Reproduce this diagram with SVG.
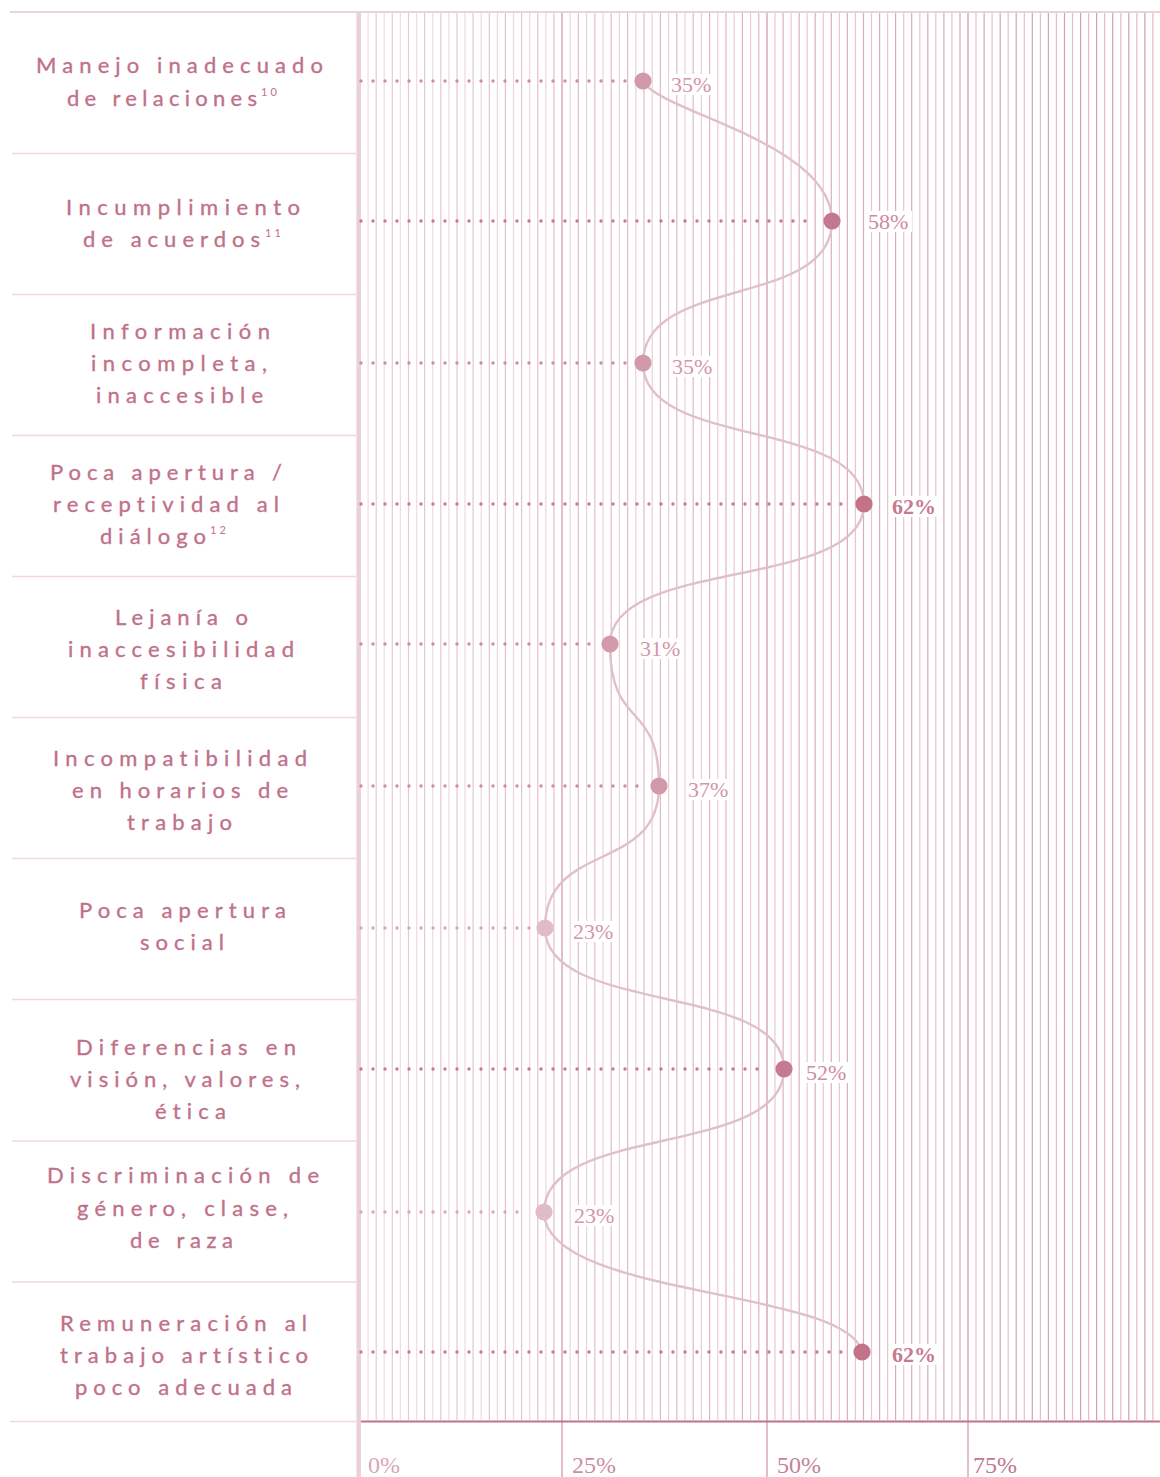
<svg xmlns="http://www.w3.org/2000/svg" width="1160" height="1477" viewBox="0 0 1160 1477">
<defs>
<linearGradient id="gA" gradientUnits="userSpaceOnUse" x1="360" y1="0" x2="1160" y2="0">
<stop offset="0" stop-color="#f1dee4"/><stop offset="1" stop-color="#e0b8c6"/>
</linearGradient>
<linearGradient id="gB" gradientUnits="userSpaceOnUse" x1="360" y1="0" x2="1160" y2="0">
<stop offset="0" stop-color="#e9ccd5"/><stop offset="1" stop-color="#d49aae"/>
</linearGradient>
<style>
.lbl{font-family:Lato,"Noto Sans","Liberation Sans",sans-serif;font-size:22px;fill:#bf7189;stroke:#bf7189;stroke-width:0.35px;font-variant-ligatures:none;font-feature-settings:"liga" 0,"clig" 0}
.sup{font-family:Lato,"Noto Sans","Liberation Sans",sans-serif;font-size:11px;fill:#bf7189;letter-spacing:3px}
.val{font-family:"Liberation Serif",serif;font-size:22px}
.bold{font-weight:bold}
.sep{stroke:#efd8de;stroke-width:1.5;fill:none}
.dots{stroke-width:3.4;stroke-linecap:round;stroke-dasharray:0 12;fill:none}
.bg{fill:#ffffff}
.ax{font-family:"Liberation Serif",serif;font-size:24px}
</style>
</defs>
<rect width="1160" height="1477" fill="#ffffff"/>

<g id="grid">
<path fill="none" stroke="url(#gA)" stroke-width="1.2" d="M368.1 13V1420M384.2 13V1420M400.4 13V1420M416.6 13V1420M432.7 13V1420M448.9 13V1420M465 13V1420M481.2 13V1420M497.4 13V1420M513.5 13V1420M529.7 13V1420M545.8 13V1420M570.2 13V1420M586.6 13V1420M603 13V1420M619.4 13V1420M635.8 13V1420M652.2 13V1420M668.6 13V1420M685 13V1420M701.4 13V1420M717.8 13V1420M734.2 13V1420M750.6 13V1420M775 13V1420M791.1 13V1420M807.2 13V1420M823.3 13V1420M839.4 13V1420M855.4 13V1420M871.5 13V1420M887.6 13V1420M903.7 13V1420M919.8 13V1420M935.8 13V1420M951.9 13V1420M976 13V1420M992.1 13V1420M1008.2 13V1420M1024.3 13V1420M1040.4 13V1420M1056.4 13V1420M1072.5 13V1420M1088.6 13V1420M1104.7 13V1420M1120.8 13V1420M1136.8 13V1420M1152.9 13V1420"/>
<path fill="none" stroke="url(#gB)" stroke-width="1.2" d="M376.2 13V1420M392.3 13V1420M408.5 13V1420M424.6 13V1420M440.8 13V1420M457 13V1420M473.1 13V1420M489.3 13V1420M505.4 13V1420M521.6 13V1420M537.8 13V1420M553.9 13V1420M578.4 13V1420M594.8 13V1420M611.2 13V1420M627.6 13V1420M644 13V1420M660.4 13V1420M676.8 13V1420M693.2 13V1420M709.6 13V1420M726 13V1420M742.4 13V1420M758.8 13V1420M783.1 13V1420M799.2 13V1420M815.2 13V1420M831.3 13V1420M847.4 13V1420M863.5 13V1420M879.6 13V1420M895.6 13V1420M911.7 13V1420M927.8 13V1420M943.9 13V1420M960 13V1420M984.1 13V1420M1000.2 13V1420M1016.2 13V1420M1032.3 13V1420M1048.4 13V1420M1064.5 13V1420M1080.6 13V1420M1096.6 13V1420M1112.7 13V1420M1128.8 13V1420M1144.9 13V1420"/>
<path fill="none" stroke="#dcadbb" stroke-width="1.6" d="M562 13V1477M767 13V1477M968 13V1477"/>
<line x1="10" y1="12" x2="1160" y2="12" stroke="#ecd3da" stroke-width="2"/>
<path class="sep" d="M12 153.5H356M12 294.5H356M12 435.5H356M12 576.5H356M12 717.5H356M12 858.5H356M12 999.5H356M12 1141H356M12 1282H356M10 1421.5H357"/>
<line x1="358.7" y1="12" x2="358.7" y2="1477" stroke="#ead0d8" stroke-width="4.5"/>
<line x1="361" y1="1421.5" x2="1160" y2="1421.5" stroke="#c2718a" stroke-width="2"/>
<text class="ax" x="368" y="1473" fill="#dba6b5">0%</text>
<text class="ax" x="572" y="1473" fill="#cf8fa3">25%</text>
<text class="ax" x="777" y="1473" fill="#c8819a">50%</text>
<text class="ax" x="973" y="1473" fill="#c27890">75%</text>
</g>

<g id="connectors">
<path fill="none" stroke="#e0c0c9" stroke-width="2.4" d="M643,81 C658,112 832,142 832,221 C832,309 643,275 643,363 C643,450 864,417 864,504 C864,591 610,557 610,644 C610,732 659,698 659,786 C659,874 545,840 545,928 C545,1015 784,982 784,1069 C784,1158 544,1123 544,1212 C544,1298 848,1288 862,1352"/>
</g>

<g id="row-1">
<text class="lbl" x="36" y="73" textLength="287" lengthAdjust="spacing">Manejo inadecuado</text>
<text class="lbl" x="67" y="106" textLength="190" lengthAdjust="spacing">de relaciones</text>
<text class="sup" x="261" y="96">10</text>
<path class="dots" stroke="#cd8ea0" d="M361 81H628"/>
<circle cx="643" cy="81" r="8.6" fill="#d29aa8"/>
<rect class="bg" x="669" y="74" width="45" height="21"/>
<text class="val" x="671" y="92" fill="#d496a8">35%</text>
</g>

<g id="row-2">
<text class="lbl" x="66" y="215" textLength="234" lengthAdjust="spacing">Incumplimiento</text>
<text class="lbl" x="83" y="247" textLength="177" lengthAdjust="spacing">de acuerdos</text>
<text class="sup" x="265" y="237">11</text>
<path class="dots" stroke="#c47a90" d="M361 221H817"/>
<circle cx="832" cy="221" r="8.6" fill="#c27890"/>
<rect class="bg" x="866" y="211" width="46" height="21"/>
<text class="val" x="868" y="229" fill="#cf8aa0">58%</text>
</g>

<g id="row-3">
<text class="lbl" x="90" y="339" textLength="180" lengthAdjust="spacing">Información</text>
<text class="lbl" x="91" y="371" textLength="176" lengthAdjust="spacing">incompleta,</text>
<text class="lbl" x="96" y="403" textLength="167" lengthAdjust="spacing">inaccesible</text>
<path class="dots" stroke="#cd8ea0" d="M361 363H628"/>
<circle cx="643" cy="363" r="8.6" fill="#d29aa8"/>
<rect class="bg" x="670" y="356" width="45" height="21"/>
<text class="val" x="672" y="374" fill="#d496a8">35%</text>
</g>

<g id="row-4">
<text class="lbl" x="50" y="480" textLength="232" lengthAdjust="spacing">Poca apertura /</text>
<text class="lbl" x="53" y="512" textLength="226" lengthAdjust="spacing">receptividad al</text>
<text class="lbl" x="100" y="544" textLength="106" lengthAdjust="spacing">diálogo</text>
<text class="sup" x="210" y="534">12</text>
<path class="dots" stroke="#c47a90" d="M361 504H849"/>
<circle cx="864" cy="504" r="8.6" fill="#c27389"/>
<rect class="bg" x="890" y="496" width="48" height="21"/>
<text class="val bold" x="892" y="514" fill="#c57a90">62%</text>
</g>

<g id="row-5">
<text class="lbl" x="115" y="625" textLength="133" lengthAdjust="spacing">Lejanía o</text>
<text class="lbl" x="68" y="657" textLength="226" lengthAdjust="spacing">inaccesibilidad</text>
<text class="lbl" x="140" y="689" textLength="82" lengthAdjust="spacing">física</text>
<path class="dots" stroke="#cd8ea0" d="M361 644H595"/>
<circle cx="610" cy="644" r="8.6" fill="#d39ba9"/>
<rect class="bg" x="638" y="638" width="45" height="21"/>
<text class="val" x="640" y="656" fill="#d496a8">31%</text>
</g>

<g id="row-6">
<text class="lbl" x="53" y="766" textLength="254" lengthAdjust="spacing">Incompatibilidad</text>
<text class="lbl" x="72" y="798" textLength="216" lengthAdjust="spacing">en horarios de</text>
<text class="lbl" x="127" y="830" textLength="105" lengthAdjust="spacing">trabajo</text>
<path class="dots" stroke="#cd8ea0" d="M361 786H644"/>
<circle cx="659" cy="786" r="8.6" fill="#d29aa8"/>
<rect class="bg" x="686" y="779" width="45" height="21"/>
<text class="val" x="688" y="797" fill="#d496a8">37%</text>
</g>

<g id="row-7">
<text class="lbl" x="79" y="918" textLength="207" lengthAdjust="spacing">Poca apertura</text>
<text class="lbl" x="140" y="950" textLength="84" lengthAdjust="spacing">social</text>
<path class="dots" stroke="#d9a8b6" d="M361 928H530"/>
<circle cx="545" cy="928" r="8.6" fill="#e0bcc6"/>
<rect class="bg" x="571" y="921" width="45" height="21"/>
<text class="val" x="573" y="939" fill="#d496a8">23%</text>
</g>

<g id="row-8">
<text class="lbl" x="76" y="1055" textLength="220" lengthAdjust="spacing">Diferencias en</text>
<text class="lbl" x="70" y="1087" textLength="230" lengthAdjust="spacing">visión, valores,</text>
<text class="lbl" x="155" y="1119" textLength="71" lengthAdjust="spacing">ética</text>
<path class="dots" stroke="#c47a90" d="M361 1069H769"/>
<circle cx="784" cy="1069" r="8.6" fill="#c47a90"/>
<rect class="bg" x="804" y="1062" width="45" height="21"/>
<text class="val" x="806" y="1080" fill="#d08ca1">52%</text>
</g>

<g id="row-9">
<text class="lbl" x="47" y="1183" textLength="272" lengthAdjust="spacing">Discriminación de</text>
<text class="lbl" x="77" y="1216" textLength="211" lengthAdjust="spacing">género, clase,</text>
<text class="lbl" x="130" y="1248" textLength="103" lengthAdjust="spacing">de raza</text>
<path class="dots" stroke="#d9a8b6" d="M361 1212H529"/>
<circle cx="544" cy="1212" r="8.6" fill="#e0bcc6"/>
<rect class="bg" x="572" y="1205" width="45" height="21"/>
<text class="val" x="574" y="1223" fill="#d496a8">23%</text>
</g>

<g id="row-10">
<text class="lbl" x="60" y="1331" textLength="247" lengthAdjust="spacing">Remuneración al</text>
<text class="lbl" x="60" y="1363" textLength="248" lengthAdjust="spacing">trabajo artístico</text>
<text class="lbl" x="75" y="1395" textLength="217" lengthAdjust="spacing">poco adecuada</text>
<path class="dots" stroke="#c47a90" d="M361 1352H847"/>
<circle cx="862" cy="1352" r="8.6" fill="#c27389"/>
<rect class="bg" x="890" y="1344" width="48" height="21"/>
<text class="val bold" x="892" y="1362" fill="#c57a90">62%</text>
</g>
</svg>
